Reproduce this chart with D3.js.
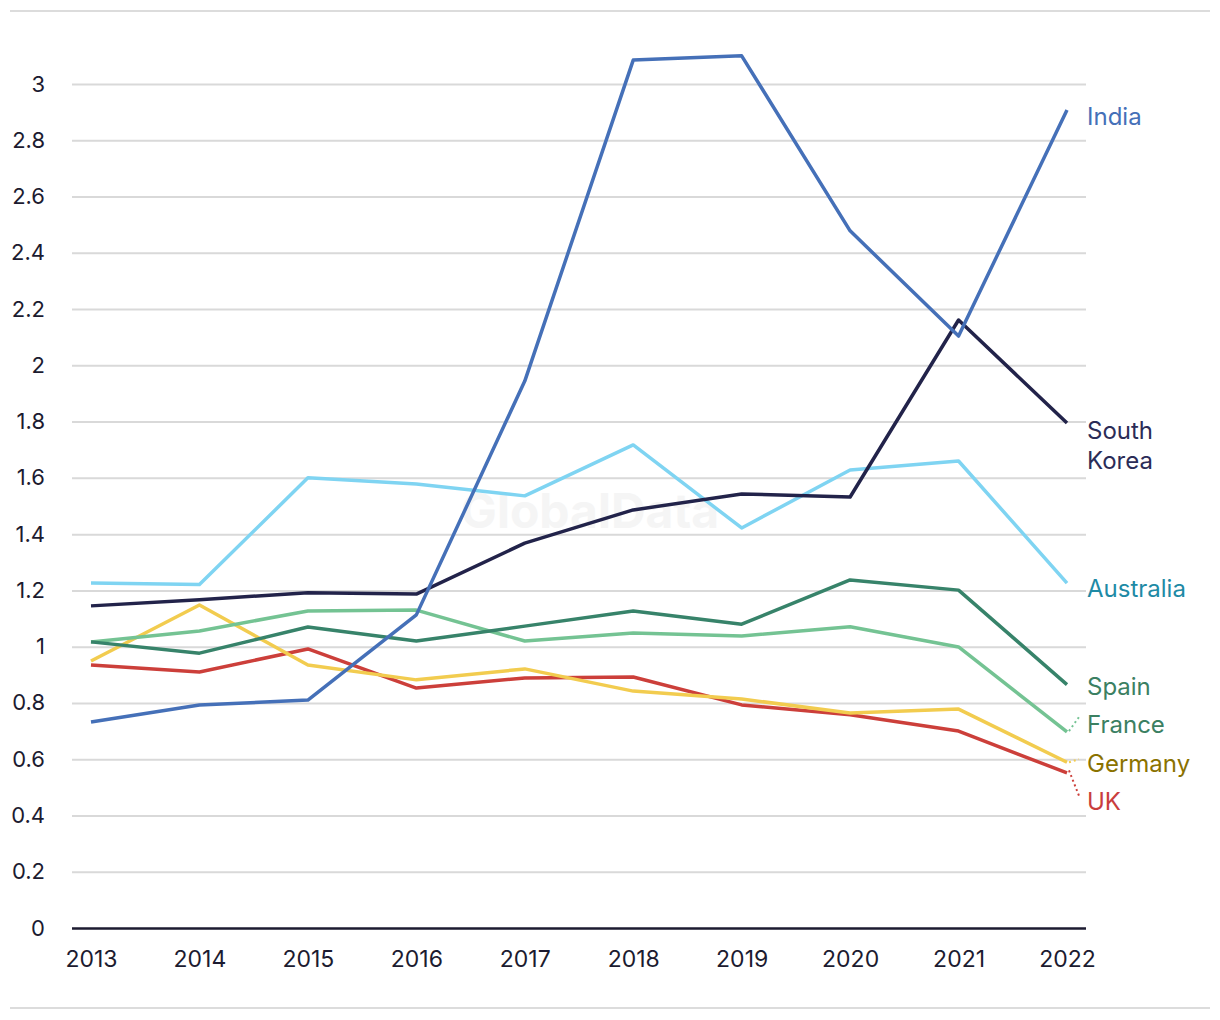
<!DOCTYPE html>
<html>
<head>
<meta charset="utf-8">
<script src="https://cdn.jsdelivr.net/npm/d3@7"></script>
<style>
  html, body { margin: 0; padding: 0; background: #fff; }
  svg { display: block; font-family: Inter, "Noto Sans", sans-serif; }
</style>
</head>
<body>
<svg id="chart" width="1220" height="1020"></svg>
<script>
const years = [2013, 2014, 2015, 2016, 2017, 2018, 2019, 2020, 2021, 2022];
const yTicks = [0, 0.2, 0.4, 0.6, 0.8, 1, 1.2, 1.4, 1.6, 1.8, 2, 2.2, 2.4, 2.6, 2.8, 3];

const india       = [0.732, 0.793, 0.81, 1.113, 1.944, 3.085, 3.10, 2.478, 2.104, 2.908];
const southKorea  = [1.145, 1.167, 1.192, 1.187, 1.368, 1.486, 1.543, 1.532, 2.161, 1.795];
const australia   = [1.226, 1.221, 1.60, 1.578, 1.536, 1.717, 1.422, 1.628, 1.66, 1.226];
const spain       = [1.017, 0.977, 1.070, 1.020, 1.073, 1.127, 1.080, 1.237, 1.201, 0.865];
const france      = [1.017, 1.056, 1.127, 1.130, 1.020, 1.049, 1.038, 1.071, 0.999, 0.697];
const germany     = [0.949, 1.148, 0.935, 0.882, 0.921, 0.842, 0.814, 0.764, 0.778, 0.589];
const uk          = [0.935, 0.910, 0.992, 0.853, 0.889, 0.892, 0.793, 0.758, 0.700, 0.551];

const seriesNames  = ["UK", "Germany", "France", "Spain", "Australia", "South Korea", "India"];
const seriesValues = [uk, germany, france, spain, australia, southKorea, india];
const lineColors   = ["#cc3f3a", "#f2cc4f", "#74c393", "#37836a", "#7fd4f2", "#22234a", "#4570b8"];
const labelColors  = ["#c93d3d", "#8a7200", "#3b8062", "#3b8062", "#1e8aa5", "#2b2c57", "#4570b8"];
const labelLines   = [["UK"], ["Germany"], ["France"], ["Spain"], ["Australia"], ["South", "Korea"], ["India"]];
const labelValues  = [0.448, 0.583, 0.725, 0.860, 1.2085, 1.770, 2.886];

const svg = d3.select("#chart");

const x = d3.scaleLinear().domain([2013, 2022]).range([91, 1067]);
const y = d3.scaleLinear().domain([0, 3]).range([928, 84]);

// frame lines
svg.append("line").attr("x1", 10).attr("x2", 1210).attr("y1", 11).attr("y2", 11)
  .attr("stroke", "#dcdcdc").attr("stroke-width", 2);
svg.append("line").attr("x1", 10).attr("x2", 1210).attr("y1", 1008).attr("y2", 1008)
  .attr("stroke", "#dcdcdc").attr("stroke-width", 2);

// watermark
svg.append("text").attr("x", 590).attr("y", 528).attr("text-anchor", "middle")
  .attr("font-size", 48).attr("font-weight", 700).attr("fill", "#f5f5f5")
  .text("GlobalData");

// y axis grid
const yAxis = d3.axisLeft(y).tickValues(yTicks).tickSize(-(1086 - 72))
  .tickFormat(d => d3.format("~g")(d)).tickPadding(27);
const gy = svg.append("g").attr("transform", "translate(72,0)").call(yAxis);
gy.select(".domain").remove();
gy.selectAll(".tick line").attr("stroke", "#d9d9d9").attr("stroke-width", 2)
  .filter(d => d === 0).attr("stroke", "#1c1b30").attr("stroke-width", 2.5);
gy.selectAll(".tick text").attr("font-size", 22).attr("fill", "#1c1b30")
  .attr("font-family", "Inter, sans-serif");

// x axis
const xAxis = d3.axisBottom(x).tickValues(years).tickFormat(d3.format("d")).tickSize(0).tickPadding(23);
const gx = svg.append("g").attr("transform", "translate(0,928)").call(xAxis);
gx.select(".domain").remove();
gx.selectAll(".tick text").attr("font-size", 23).attr("fill", "#1c1b30")
  .attr("font-family", "Inter, sans-serif");

// lines
const line = d3.line().x((d, i) => x(years[i])).y(d => y(d));
seriesValues.forEach((vals, k) => {
  svg.append("path").datum(vals).attr("d", line)
    .attr("fill", "none").attr("stroke", lineColors[k]).attr("stroke-width", 3.5)
    .attr("stroke-linejoin", "round");
});

// leader lines (dotted) for crowded labels
const leaders = [[0, 0.56, 0.47], [1, 0.589, 0.60], [2, 0.70, 0.75]];
leaders.forEach(([k, v0, v1]) => {
  svg.append("line").attr("x1", x(2022) + 2).attr("y1", y(v0))
    .attr("x2", x(2022) + 12).attr("y2", y(v1))
    .attr("stroke", lineColors[k]).attr("stroke-width", 2).attr("stroke-dasharray", "2,3");
});

// labels
labelLines.forEach((ls, k) => {
  const t = svg.append("text").attr("x", 1087).attr("font-size", 24).attr("fill", labelColors[k])
    .attr("font-family", "Inter, sans-serif");
  const y0 = y(labelValues[k]) + 8.5;
  ls.forEach((s, j) => {
    t.append("tspan").attr("x", 1087).attr("y", y0 + j * 30).text(s);
  });
});
</script>
</body>
</html>
